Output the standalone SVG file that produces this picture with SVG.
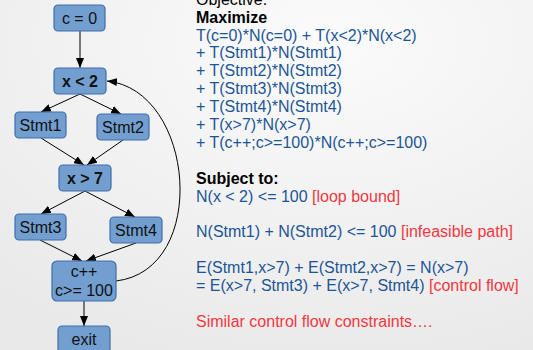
<svg xmlns="http://www.w3.org/2000/svg" width="533" height="350" viewBox="0 0 533 350">
  <defs>
    <radialGradient id="bg" cx="0.62" cy="0.12" r="0.95">
      <stop offset="0" stop-color="#fbfbfb"/>
      <stop offset="1" stop-color="#e9e9e9"/>
    </radialGradient>
    <marker id="arrow" viewBox="0 0 10 8" refX="10" refY="4" markerWidth="10" markerHeight="8" markerUnits="userSpaceOnUse" orient="auto">
      <path d="M0,0 L10,4 L0,8 Z" fill="#000"/>
    </marker>
  </defs>
  <style>
    .node rect { fill: #729fcf; stroke: #3f6eab; stroke-width: 1.2; }
    .node text { font-family: "Liberation Sans", Arial, sans-serif; font-size: 16px; fill: #111; text-anchor: middle; }
    .node text.b { font-weight: bold; }
    .edge { fill: none; stroke: #000; stroke-width: 1; marker-end: url(#arrow); }
    .txt { font-family: "Liberation Sans", Arial, sans-serif; font-size: 16px; }
    .blue { fill: #1c5596; }
    .red { fill: #f2383f; }
    .hd { fill: #000; font-weight: bold; }
  </style>

  <rect x="0" y="0" width="533" height="350" fill="url(#bg)"/>

  <!-- connectors -->
  <g id="connectors">
    <path class="edge" d="M80,31 L80,68"/>
    <path class="edge" d="M80,94 L41,112"/>
    <path class="edge" d="M80,94 L121,114"/>
    <path class="edge" d="M41,138 L84,165"/>
    <path class="edge" d="M123,140 L87,165"/>
    <path class="edge" d="M85,191 L41,214"/>
    <path class="edge" d="M85,191 L135,217"/>
    <path class="edge" d="M40,240 L82,261"/>
    <path class="edge" d="M136,243 L86,261"/>
    <path class="edge" d="M84,301 L84,326"/>
    <path class="edge" d="M116,281 C210,270 195,90 107,81"/>
  </g>

  <!-- nodes -->
  <g id="n-init" class="node">
    <rect x="54" y="5" width="51" height="26" rx="4"/>
    <text x="79.5" y="23.5">c = 0</text>
  </g>
  <g id="n-loop" class="node">
    <rect x="54" y="68" width="52" height="26" rx="4"/>
    <text class="b" x="80" y="86.5">x &lt; 2</text>
  </g>
  <g id="n-stmt1" class="node">
    <rect x="15" y="112" width="51" height="26" rx="4"/>
    <text x="40.5" y="130.5">Stmt1</text>
  </g>
  <g id="n-stmt2" class="node">
    <rect x="97" y="114" width="52" height="26" rx="4"/>
    <text x="123" y="132.5">Stmt2</text>
  </g>
  <g id="n-cond" class="node">
    <rect x="59" y="165" width="52" height="26" rx="4"/>
    <text class="b" x="85" y="183.5">x &gt; 7</text>
  </g>
  <g id="n-stmt3" class="node">
    <rect x="15" y="214" width="51" height="26" rx="4"/>
    <text x="40.5" y="232.5">Stmt3</text>
  </g>
  <g id="n-stmt4" class="node">
    <rect x="110" y="217" width="52" height="26" rx="4"/>
    <text x="136" y="235.5">Stmt4</text>
  </g>
  <g id="n-incr" class="node">
    <rect x="52" y="261" width="64" height="40" rx="5"/>
    <text x="84" y="277">c++</text>
    <text x="84" y="295.5">c&gt;= 100</text>
  </g>
  <g id="n-exit" class="node">
    <rect x="58" y="326" width="52" height="30" rx="4"/>
    <text x="84" y="345">exit</text>
  </g>

  <!-- ILP formulation -->
  <g id="formulation" class="txt">
    <text class="hd" x="196" y="4.5" font-weight="normal" style="font-weight:normal">Objective:</text>
    <text class="hd" x="196" y="22.5">Maximize</text>
    <text class="blue" x="196" y="40.5">T(c=0)*N(c=0) + T(x&lt;2)*N(x&lt;2)</text>
    <text class="blue" x="196" y="58.4">+ T(Stmt1)*N(Stmt1)</text>
    <text class="blue" x="196" y="76.3">+ T(Stmt2)*N(Stmt2)</text>
    <text class="blue" x="196" y="94.2">+ T(Stmt3)*N(Stmt3)</text>
    <text class="blue" x="196" y="112.1">+ T(Stmt4)*N(Stmt4)</text>
    <text class="blue" x="196" y="130">+ T(x&gt;7)*N(x&gt;7)</text>
    <text class="blue" x="196" y="147.9">+ T(c++;c&gt;=100)*N(c++;c&gt;=100)</text>

    <text class="hd" x="196" y="183.5">Subject to:</text>
    <text x="196" y="201.5"><tspan class="blue">N(x &lt; 2) &lt;= 100 </tspan><tspan class="red">[loop bound]</tspan></text>
    <text x="196" y="237.3"><tspan class="blue">N(Stmt1) + N(Stmt2) &lt;= 100 </tspan><tspan class="red">[infeasible path]</tspan></text>
    <text class="blue" x="196" y="273">E(Stmt1,x&gt;7) + E(Stmt2,x&gt;7) = N(x&gt;7)</text>
    <text x="196" y="291"><tspan class="blue">= E(x&gt;7, Stmt3) + E(x&gt;7, Stmt4) </tspan><tspan class="red">[control flow]</tspan></text>
    <text class="red" x="196" y="326.5">Similar control flow constraints….</text>
  </g>
</svg>
